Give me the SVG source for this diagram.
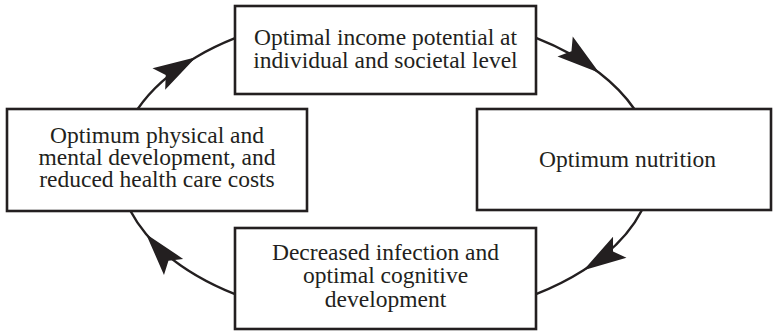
<svg xmlns="http://www.w3.org/2000/svg" width="773" height="331" viewBox="0 0 773 331">
  <style>
    .box { fill: #ffffff; stroke: #231f20; stroke-width: 2.6; }
    .lbl { font-family: "Liberation Serif", "Times New Roman", serif; font-size: 23.5px; fill: #231f20; text-anchor: middle; }
    .conn { fill: none; stroke: #231f20; stroke-width: 2.4; marker-mid: url(#head); }
  </style>
  <defs>
    <!-- dart-shaped arrowhead, tip at origin, pointing along +x -->
    <marker id="head" markerUnits="userSpaceOnUse" orient="auto" viewBox="-46 -15 48 30" markerWidth="48" markerHeight="30" refX="0" refY="0">
      <path d="M0,0 L-43,-12.5 L-35,0 L-43,12.5 Z" fill="#231f20"/>
    </marker>
  </defs>

  <!-- cycle connectors: arcs of one ellipse (centre 386,166; radii 267 x 155), arrowhead at the mid vertex -->
  <g id="connectors">
    <path class="conn" d="M137.7,109 A267,155 0 0 1 195.9,57.2 A267,155 0 0 1 235,38.2"/>
    <path class="conn" d="M536,37.8 A267,155 0 0 1 599.2,72.7 A267,155 0 0 1 634.3,109"/>
    <path class="conn" d="M642,210 A267,155 0 0 1 583.5,270.3 A267,155 0 0 1 536,294.2"/>
    <path class="conn" d="M235,294.2 A267,155 0 0 1 146,233.9 A267,155 0 0 1 130.5,211"/>
  </g>

  <g id="income">
    <rect class="box" x="235" y="6" width="301" height="88"/>
    <text class="lbl" x="385.5" y="45.3">Optimal income potential at<tspan x="385.5" dy="22.4">individual and societal level</tspan></text>
  </g>

  <g id="nutrition">
    <rect class="box" x="477" y="109" width="294" height="101"/>
    <text class="lbl" x="627.5" y="166.7">Optimum nutrition</text>
  </g>

  <g id="infection">
    <rect class="box" x="235" y="228" width="301" height="101"/>
    <text class="lbl" x="385.5" y="260">Decreased infection and<tspan x="385.5" dy="23.3">optimal cognitive</tspan><tspan x="385.5" dy="23.3">development</tspan></text>
  </g>

  <g id="development">
    <rect class="box" x="7" y="109" width="300" height="102"/>
    <text class="lbl" x="157" y="142.7">Optimum physical and<tspan x="157" dy="22.3">mental development, and</tspan><tspan x="157" dy="22.3">reduced health care costs</tspan></text>
  </g>
</svg>
